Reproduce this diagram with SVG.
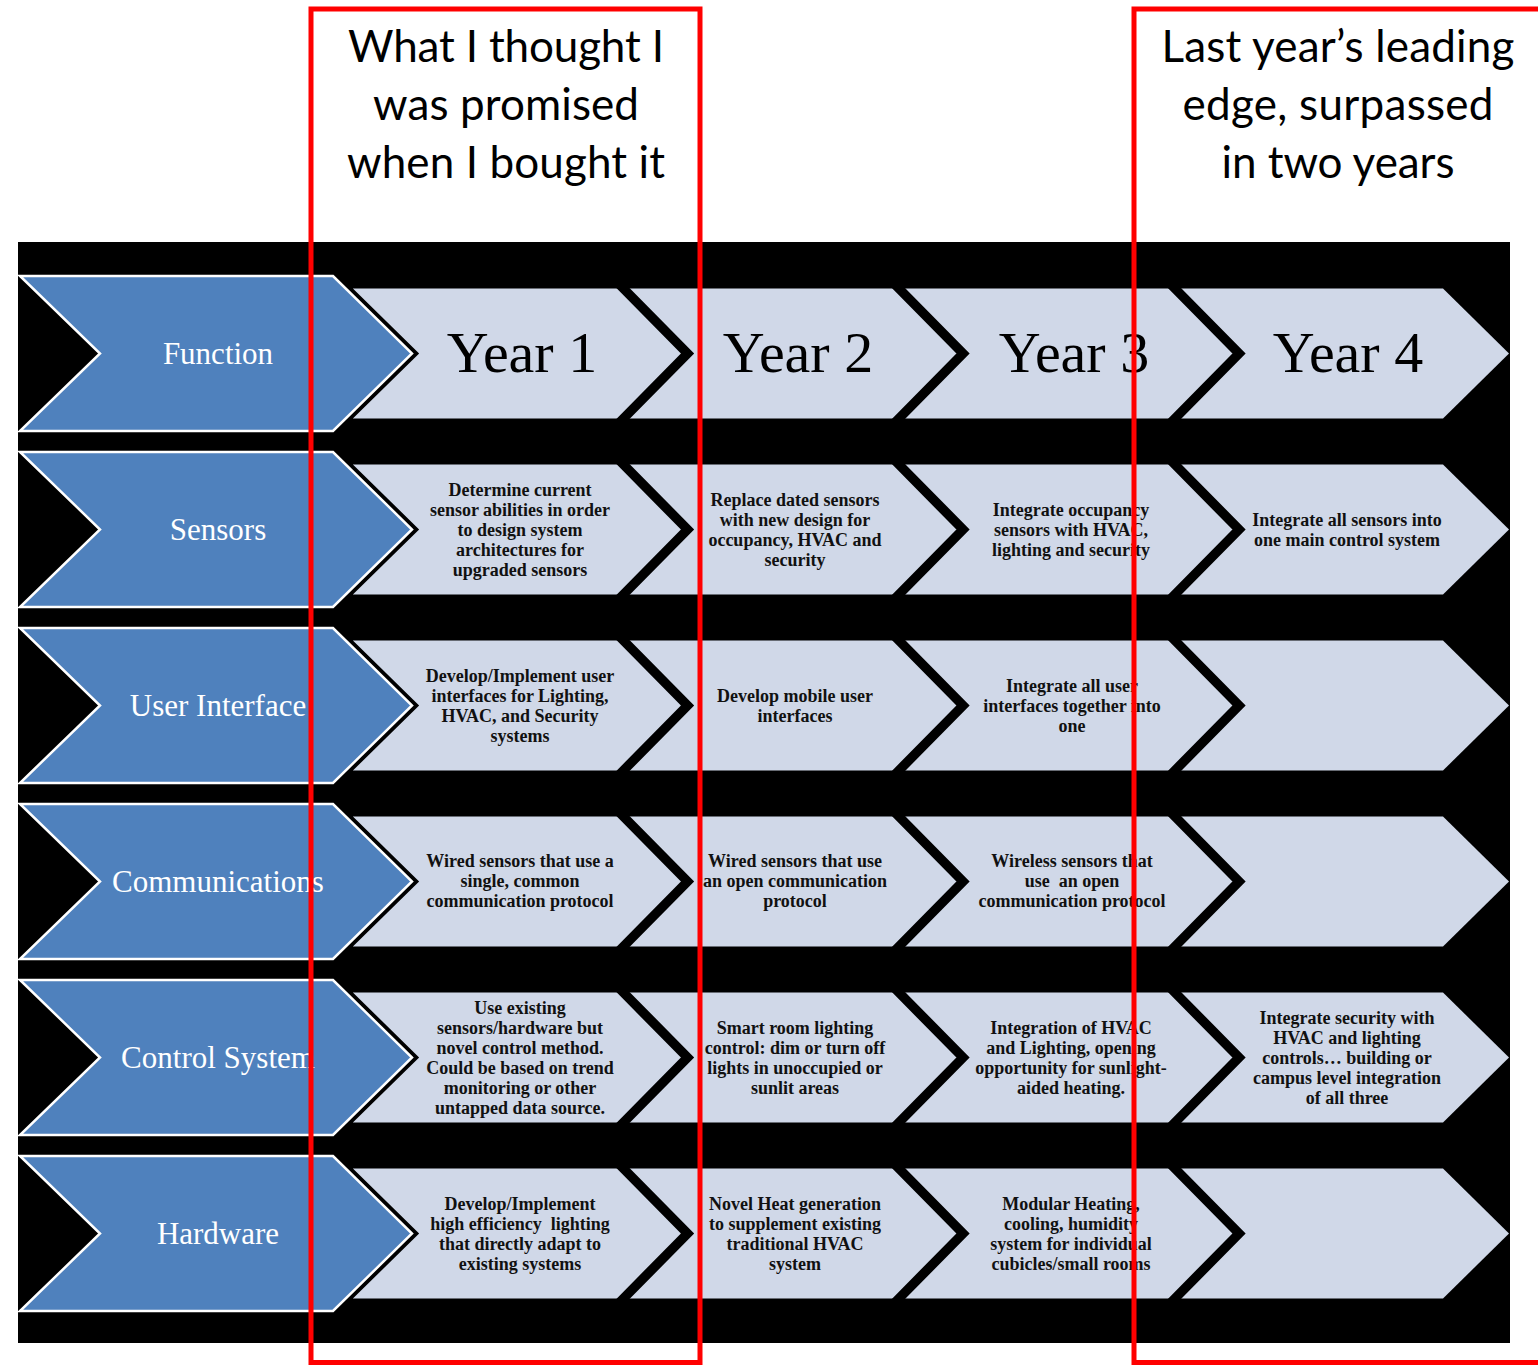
<svg xmlns="http://www.w3.org/2000/svg" xmlns:xlink="http://www.w3.org/1999/xlink" width="1538" height="1365" viewBox="0 0 1538 1365">
<style>
.bg{fill:#000}
.light{fill:#D0D8E8}
.band{fill:none;stroke:#000;stroke-width:9.5;stroke-linejoin:miter;stroke-miterlimit:10}
.blueU{fill:none;stroke:#000;stroke-width:10;stroke-linejoin:miter;stroke-miterlimit:10}
.blue{fill:#4F81BD;stroke:#fff;stroke-width:2.5;stroke-linejoin:miter;stroke-miterlimit:10}
.lab{font-family:"Liberation Serif","Times New Roman",serif;font-size:31px;fill:#fff;text-anchor:middle}
.yr{font-family:"Liberation Serif","Times New Roman",serif;font-size:58px;fill:#000;text-anchor:middle}
.cell{font-family:"Liberation Serif","Times New Roman",serif;font-size:18px;font-weight:bold;fill:#111;text-anchor:middle;white-space:pre}
.title{font-family:Lato,"Open Sans",sans-serif;font-size:44px;fill:#000;text-anchor:middle}
.frame{fill:none;stroke:#FF0000;stroke-width:5}
</style>
<defs>
<polygon id="bluePoly" points="20,-77.5 333,-77.5 412,0 333,77.5 20,77.5 100,0"/>
<polyline id="blueTip" points="330,-80.5 412,0 330,80.5"/>
<polygon id="lightRow" points="353,-65 1443,-65 1509,0 1443,65 353,65"/>
<polyline id="bandShape" points="-6,-71 64,0 -6,71"/>
</defs>
<rect class="bg" x="18" y="242" width="1492" height="1101"/>

<g id="rows-background">
<use xlink:href="#lightRow" class="light" transform="translate(0,353.5)"/>
<use xlink:href="#lightRow" class="light" transform="translate(0,529.5)"/>
<use xlink:href="#lightRow" class="light" transform="translate(0,705.5)"/>
<use xlink:href="#lightRow" class="light" transform="translate(0,881.5)"/>
<use xlink:href="#lightRow" class="light" transform="translate(0,1057.5)"/>
<use xlink:href="#lightRow" class="light" transform="translate(0,1233.5)"/>
</g>
<g id="bands">
<use xlink:href="#bandShape" class="band" transform="translate(623.5,353.5)"/>
<use xlink:href="#bandShape" class="band" transform="translate(899,353.5)"/>
<use xlink:href="#bandShape" class="band" transform="translate(1175,353.5)"/>
<use xlink:href="#bandShape" class="band" transform="translate(623.5,529.5)"/>
<use xlink:href="#bandShape" class="band" transform="translate(899,529.5)"/>
<use xlink:href="#bandShape" class="band" transform="translate(1175,529.5)"/>
<use xlink:href="#bandShape" class="band" transform="translate(623.5,705.5)"/>
<use xlink:href="#bandShape" class="band" transform="translate(899,705.5)"/>
<use xlink:href="#bandShape" class="band" transform="translate(1175,705.5)"/>
<use xlink:href="#bandShape" class="band" transform="translate(623.5,881.5)"/>
<use xlink:href="#bandShape" class="band" transform="translate(899,881.5)"/>
<use xlink:href="#bandShape" class="band" transform="translate(1175,881.5)"/>
<use xlink:href="#bandShape" class="band" transform="translate(623.5,1057.5)"/>
<use xlink:href="#bandShape" class="band" transform="translate(899,1057.5)"/>
<use xlink:href="#bandShape" class="band" transform="translate(1175,1057.5)"/>
<use xlink:href="#bandShape" class="band" transform="translate(623.5,1233.5)"/>
<use xlink:href="#bandShape" class="band" transform="translate(899,1233.5)"/>
<use xlink:href="#bandShape" class="band" transform="translate(1175,1233.5)"/>
</g>

<g id="label-function">
<use xlink:href="#blueTip" class="blueU" transform="translate(0,353.5)"/>
<use xlink:href="#bluePoly" class="blue" transform="translate(0,353.5)"/>
<text class="lab" x="218" y="363.5">Function</text>
</g>
<g id="label-sensors">
<use xlink:href="#blueTip" class="blueU" transform="translate(0,529.5)"/>
<use xlink:href="#bluePoly" class="blue" transform="translate(0,529.5)"/>
<text class="lab" x="218" y="539.5">Sensors</text>
</g>
<g id="label-ui">
<use xlink:href="#blueTip" class="blueU" transform="translate(0,705.5)"/>
<use xlink:href="#bluePoly" class="blue" transform="translate(0,705.5)"/>
<text class="lab" x="218" y="715.5">User Interface</text>
</g>
<g id="label-comm">
<use xlink:href="#blueTip" class="blueU" transform="translate(0,881.5)"/>
<use xlink:href="#bluePoly" class="blue" transform="translate(0,881.5)"/>
<text class="lab" x="218" y="891.5">Communications</text>
</g>
<g id="label-control">
<use xlink:href="#blueTip" class="blueU" transform="translate(0,1057.5)"/>
<use xlink:href="#bluePoly" class="blue" transform="translate(0,1057.5)"/>
<text class="lab" x="218" y="1067.5">Control System</text>
</g>
<g id="label-hardware">
<use xlink:href="#blueTip" class="blueU" transform="translate(0,1233.5)"/>
<use xlink:href="#bluePoly" class="blue" transform="translate(0,1233.5)"/>
<text class="lab" x="218" y="1243.5">Hardware</text>
</g>

<g id="year-headers">
<text id="year1" class="yr" x="522" y="372">Year 1</text>
<text id="year2" class="yr" x="798" y="372">Year 2</text>
<text id="year3" class="yr" x="1074" y="372">Year 3</text>
<text id="year4" class="yr" x="1348" y="372">Year 4</text>
</g>

<g id="sensors-y1"><text class="cell"><tspan x="520" y="496">Determine current</tspan><tspan x="520" y="516">sensor abilities in order</tspan><tspan x="520" y="536">to design system</tspan><tspan x="520" y="556">architectures for</tspan><tspan x="520" y="576">upgraded sensors</tspan></text></g>
<g id="sensors-y2"><text class="cell"><tspan x="795" y="506">Replace dated sensors</tspan><tspan x="795" y="526">with new design for</tspan><tspan x="795" y="546">occupancy, HVAC and</tspan><tspan x="795" y="566">security</tspan></text></g>
<g id="sensors-y3"><text class="cell"><tspan x="1071" y="516">Integrate occupancy</tspan><tspan x="1071" y="536">sensors with HVAC,</tspan><tspan x="1071" y="556">lighting and security</tspan></text></g>
<g id="sensors-y4"><text class="cell"><tspan x="1347" y="526">Integrate all sensors into</tspan><tspan x="1347" y="546">one main control system</tspan></text></g>

<g id="ui-y1"><text class="cell"><tspan x="520" y="682">Develop/Implement user</tspan><tspan x="520" y="702">interfaces for Lighting,</tspan><tspan x="520" y="722">HVAC, and Security</tspan><tspan x="520" y="742">systems</tspan></text></g>
<g id="ui-y2"><text class="cell"><tspan x="795" y="702">Develop mobile user</tspan><tspan x="795" y="722">interfaces</tspan></text></g>
<g id="ui-y3"><text class="cell"><tspan x="1072" y="692">Integrate all user</tspan><tspan x="1072" y="712">interfaces together into</tspan><tspan x="1072" y="732">one</tspan></text></g>

<g id="comm-y1"><text class="cell"><tspan x="520" y="867">Wired sensors that use a</tspan><tspan x="520" y="887">single, common</tspan><tspan x="520" y="907">communication protocol</tspan></text></g>
<g id="comm-y2"><text class="cell"><tspan x="795" y="867">Wired sensors that use</tspan><tspan x="795" y="887">an open communication</tspan><tspan x="795" y="907">protocol</tspan></text></g>
<g id="comm-y3"><text class="cell"><tspan x="1072" y="867">Wireless sensors that</tspan><tspan x="1072" y="887">use  an open</tspan><tspan x="1072" y="907">communication protocol</tspan></text></g>

<g id="control-y1"><text class="cell"><tspan x="520" y="1014">Use existing</tspan><tspan x="520" y="1034">sensors/hardware but</tspan><tspan x="520" y="1054">novel control method.</tspan><tspan x="520" y="1074">Could be based on trend</tspan><tspan x="520" y="1094">monitoring or other</tspan><tspan x="520" y="1114">untapped data source.</tspan></text></g>
<g id="control-y2"><text class="cell"><tspan x="795" y="1034">Smart room lighting</tspan><tspan x="795" y="1054">control: dim or turn off</tspan><tspan x="795" y="1074">lights in unoccupied or</tspan><tspan x="795" y="1094">sunlit areas</tspan></text></g>
<g id="control-y3"><text class="cell"><tspan x="1071" y="1034">Integration of HVAC</tspan><tspan x="1071" y="1054">and Lighting, opening</tspan><tspan x="1071" y="1074">opportunity for sunlight-</tspan><tspan x="1071" y="1094">aided heating.</tspan></text></g>
<g id="control-y4"><text class="cell"><tspan x="1347" y="1024">Integrate security with</tspan><tspan x="1347" y="1044">HVAC and lighting</tspan><tspan x="1347" y="1064">controls… building or</tspan><tspan x="1347" y="1084">campus level integration</tspan><tspan x="1347" y="1104">of all three</tspan></text></g>

<g id="hardware-y1"><text class="cell"><tspan x="520" y="1210">Develop/Implement</tspan><tspan x="520" y="1230">high efficiency  lighting</tspan><tspan x="520" y="1250">that directly adapt to</tspan><tspan x="520" y="1270">existing systems</tspan></text></g>
<g id="hardware-y2"><text class="cell"><tspan x="795" y="1210">Novel Heat generation</tspan><tspan x="795" y="1230">to supplement existing</tspan><tspan x="795" y="1250">traditional HVAC</tspan><tspan x="795" y="1270">system</tspan></text></g>
<g id="hardware-y3"><text class="cell"><tspan x="1071" y="1210">Modular Heating,</tspan><tspan x="1071" y="1230">cooling, humidity</tspan><tspan x="1071" y="1250">system for individual</tspan><tspan x="1071" y="1270">cubicles/small rooms</tspan></text></g>

<g id="connectors"></g>

<g id="frame-left">
<rect class="frame" x="311" y="9" width="389" height="1353.5"/>
<text class="title"><tspan x="506" y="62" textLength="316">What I thought I</tspan><tspan x="506" y="120" textLength="266">was promised</tspan><tspan x="506" y="178" textLength="318">when I bought it</tspan></text>
</g>
<g id="frame-right">
<rect class="frame" x="1134" y="9" width="420" height="1353.5"/>
<text class="title"><tspan x="1338" y="62" textLength="353">Last year’s leading</tspan><tspan x="1338" y="120" textLength="311">edge, surpassed</tspan><tspan x="1338" y="178" textLength="233">in two years</tspan></text>
</g>
</svg>
